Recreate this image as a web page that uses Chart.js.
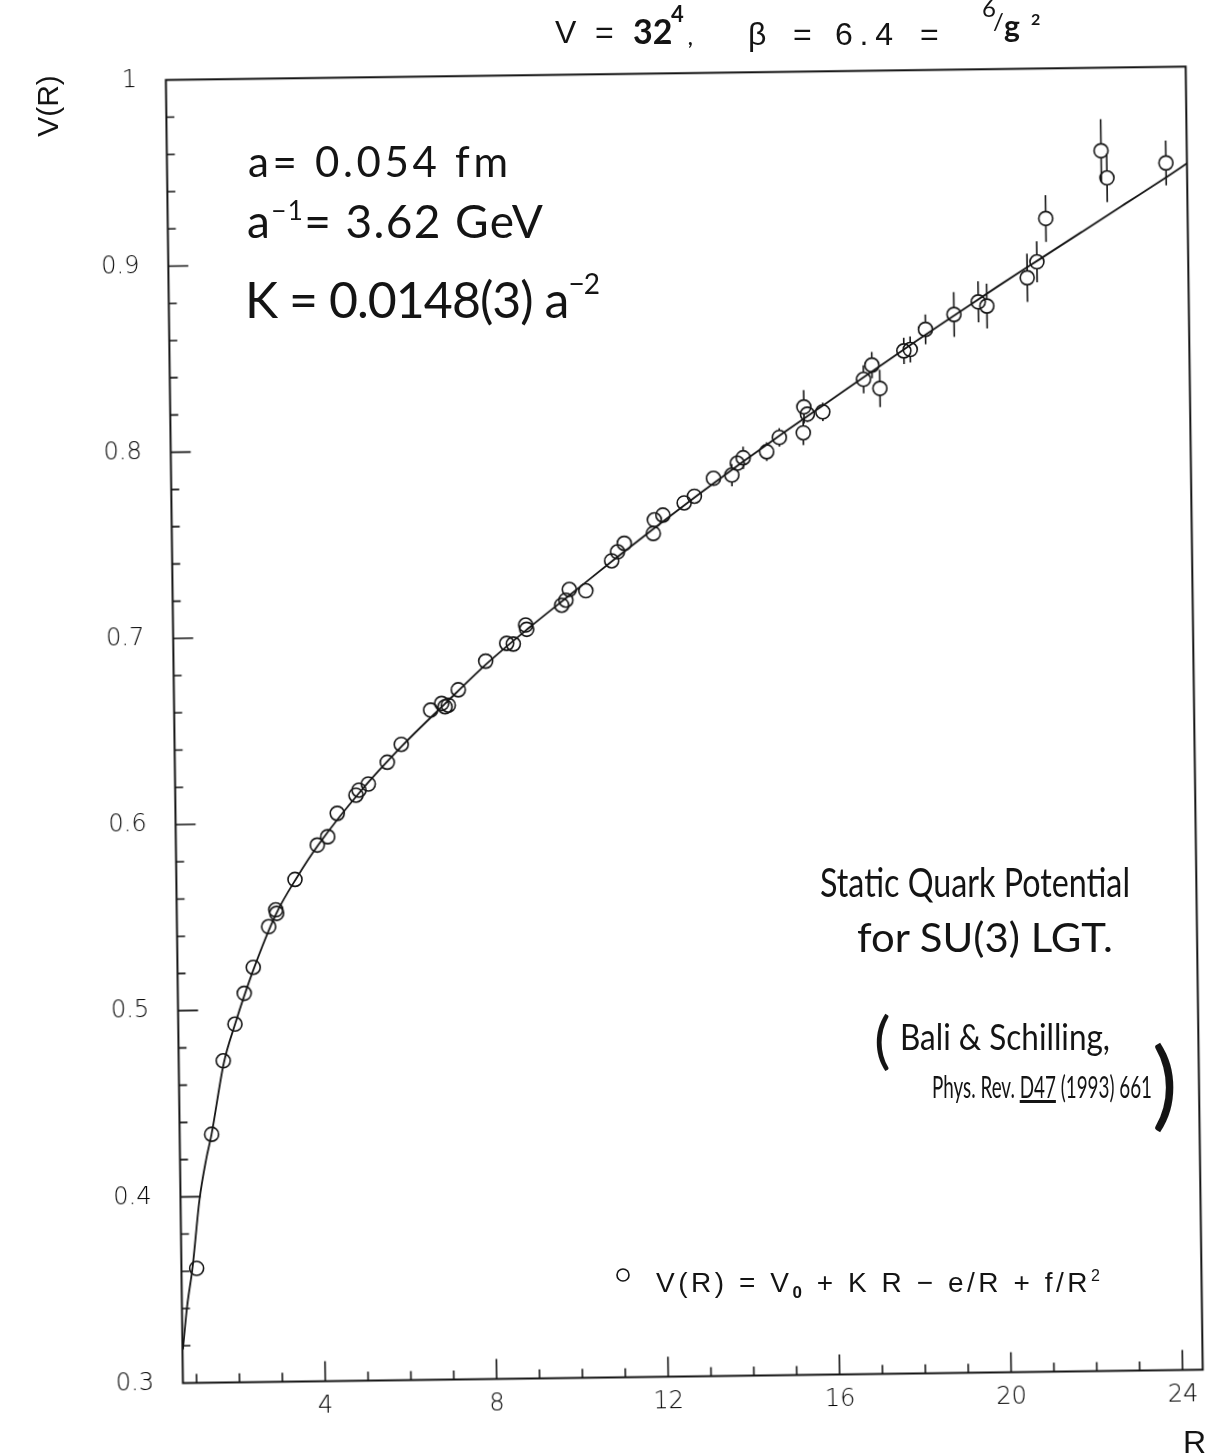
<!DOCTYPE html>
<html>
<head>
<meta charset="utf-8">
<script src="https://cdn.jsdelivr.net/npm/chart.js@4.4.0/dist/chart.umd.min.js"></script>
<style>
  html, body { margin: 0; padding: 0; background: #fff; overflow: hidden; }
  #rot { position: absolute; left: 0; top: 0; width: 1207px; height: 1456px;
         transform: rotate(-0.75deg); transform-origin: 603.5px 728px; }
  #notes { position: absolute; left: 0; top: 0; }
  #notes text { fill: #141414; }
  .typed { font-family: 'Liberation Sans', Arial, sans-serif; }
  .hand { font-family: Lato, 'Open Sans', sans-serif; }
</style>
</head>
<body>
<div id="rot"><canvas id="potChart" width="1207" height="1456"></canvas></div>

<svg id="notes" width="1207" height="1456" xmlns="http://www.w3.org/2000/svg">
  <!-- title -->
  <g class="typed" font-size="32">
    <text x="555" y="43">V</text>
    <text x="595" y="43">=</text>
    <text x="748" y="45">β</text>
    <text x="793" y="45">=</text>
    <text x="835" y="45" textLength="58">6.4</text>
    <text x="920" y="45">=</text>
  </g>
  <g class="hand" font-weight="bold">
    <text x="633" y="44" font-size="34">32</text>
    <text x="671" y="22" font-size="22">4</text>
    <text x="688" y="45" font-size="20">,</text>
    <text x="982" y="17" font-size="24" font-weight="normal">6</text>
    <text x="993" y="30" font-size="24" font-weight="normal">/</text>
    <text x="1004" y="37" font-size="30">g</text>
    <text x="1031" y="25" font-size="16">2</text>
  </g>

  <!-- axis titles -->
  <text class="typed" transform="translate(58,106) rotate(-90)" text-anchor="middle" font-size="30" font-weight="300">V(R)</text>
  <text class="typed" x="1183" y="1453" font-size="32" font-weight="300">R</text>

  <!-- hand written notes -->
  <g class="hand">
    <text x="248" y="177" font-size="42" textLength="260">a= 0.054 fm</text>
    <text x="247" y="238" font-size="46" textLength="296">a<tspan dy="-18" font-size="26">−1</tspan><tspan dy="18">=  3.62 GeV</tspan></text>
    <text x="245" y="318" font-size="50" textLength="355">K = 0.0148(3) a<tspan dy="-24" font-size="28">−2</tspan></text>

    <text x="820" y="897" font-size="40" textLength="310" lengthAdjust="spacingAndGlyphs">Static Quark Potential</text>
    <text x="857" y="952" font-size="40" textLength="256" lengthAdjust="spacingAndGlyphs">for SU(3) LGT.</text>
    <text x="874" y="1062" font-size="62">(</text>
    <text x="900" y="1050" font-size="36" textLength="210" lengthAdjust="spacingAndGlyphs">Bali &amp; Schilling,</text>
    <text x="932" y="1098" font-size="30" textLength="220" lengthAdjust="spacingAndGlyphs">Phys. Rev. <tspan text-decoration="underline">D47</tspan> (1993) 661</text>
    <text x="1152" y="1118" font-size="96">)</text>
  </g>

  <!-- legend -->
  <circle cx="623" cy="1275" r="6" fill="none" stroke="#141414" stroke-width="1.6"></circle>
  <text class="typed" x="656" y="1292" font-size="28" textLength="444">V(R) = V<tspan dy="6" font-size="17" font-weight="bold">0</tspan><tspan dy="-6"> + K R − e/R + f/R</tspan><tspan dy="-11" font-size="16">2</tspan></text>
</svg>

<script>
// measured potential: separation R (lattice units), V(R), error
const rVals = [1.035, 1.426, 1.719, 2.003, 2.229, 2.448, 2.819, 2.99, 3.01, 3.447,
  3.978, 4.224, 4.454, 4.895, 4.967, 5.186, 5.636, 5.968, 6.663, 6.922,
  6.999, 7.076, 7.314, 7.962, 8.457, 8.611, 8.905, 8.928, 9.752, 9.852,
  9.935, 10.32, 10.93, 11.07, 11.23, 11.91, 11.94, 12.14, 12.64, 12.88,
  13.33, 13.76, 13.89, 14.03, 14.58, 14.88, 15.44, 15.46, 15.54, 15.90,
  16.86, 17.06, 17.24, 17.81, 17.96, 18.32, 18.99, 19.56, 19.76, 20.71,
  20.94, 21.16, 22.47, 22.60, 23.98];
const vVals = [0.3615, 0.4334, 0.4728, 0.4924, 0.5089, 0.5228, 0.5445, 0.5535, 0.5516, 0.5697,
  0.5880, 0.5924, 0.6049, 0.6145, 0.6172, 0.6204, 0.6320, 0.6415, 0.6597, 0.6632,
  0.6614, 0.6622, 0.6704, 0.6856, 0.6950, 0.6946, 0.7047, 0.7024, 0.7151, 0.7178,
  0.7235, 0.7227, 0.7386, 0.7434, 0.7479, 0.7530, 0.7603, 0.7628, 0.7692, 0.7727,
  0.7822, 0.7838, 0.7901, 0.7930, 0.7961, 0.8037, 0.8060, 0.8199, 0.8160, 0.8171,
  0.8343, 0.8419, 0.8293, 0.8493, 0.8500, 0.8607, 0.8685, 0.8751, 0.8728, 0.8877,
  0.8962, 0.9194, 0.9554, 0.9408, 0.9484];
const vErrs = [0, 0, 0, 0, 0, 0, 0, 0, 0, 0,
  0, 0, 0, 0, 0, 0, 0, 0, 0, 0,
  0, 0, 0, 0, 0, 0, 0, 0, 0, 0,
  0, 0, 0, 0, 0, 0, 0, 0, 0, 0,
  0.003, 0.006, 0.004, 0.006, 0.005, 0.005, 0.0066, 0.009, 0.004, 0.005,
  0.0075, 0.007, 0.010, 0.007, 0.007, 0.008, 0.012, 0.011, 0.012, 0.013,
  0.011, 0.0125, 0.017, 0.013, 0.012];

// fit curve V0 + K R - e/R + f/R^2
const fitR = [0.69, 0.80, 0.94, 1.12, 1.29, 1.42, 1.73, 2.0, 2.45, 3.0,
  3.5, 4.0, 5.0, 6.0, 7.0, 8.0, 9.0, 10.0, 11.0, 12.0,
  13.0, 14.0, 15.0, 16.0, 17.0, 18.0, 19.0, 20.0, 21.0, 22.0,
  23.0, 24.0, 24.47];
const fitV = [0.318, 0.341, 0.362, 0.398, 0.420, 0.433, 0.4715, 0.492, 0.5215, 0.5515,
  0.5710, 0.588, 0.6165, 0.6410, 0.6630, 0.6845, 0.7035, 0.7215, 0.7395, 0.7570,
  0.7740, 0.7905, 0.8065, 0.8220, 0.8375, 0.8530, 0.8680, 0.8830, 0.8975, 0.9120,
  0.9265, 0.9410, 0.9480];

const xTickVals = [4, 8, 12, 16, 20, 24];
const yTickVals = [0.3, 0.4, 0.5, 0.6, 0.7, 0.8, 0.9, 1.0];

const INK = '#141414';
const MARK_R = 7;

// frame with inward ticks on left and bottom only
const frameTicks = {
  id: 'frameTicks',
  afterDraw(chart) {
    const { ctx, chartArea: a, scales: { x, y } } = chart;
    ctx.save();
    ctx.strokeStyle = INK;
    ctx.lineWidth = 2;
    ctx.strokeRect(a.left, a.top, a.right - a.left, a.bottom - a.top);
    ctx.lineWidth = 1.6;
    ctx.beginPath();
    for (let r = 1; r <= 24; r++) {
      const px = x.getPixelForValue(r);
      const len = r % 4 === 0 ? 20 : 9;
      ctx.moveTo(px, a.bottom);
      ctx.lineTo(px, a.bottom - len);
    }
    for (let k = 16; k < 50; k++) {
      const py = y.getPixelForValue(k / 50);
      const len = k % 5 === 0 ? 20 : 8;
      ctx.moveTo(a.left, py);
      ctx.lineTo(a.left + len, py);
    }
    ctx.stroke();
    ctx.restore();
  }
};

// vertical error bars, drawn outside the open circle
const errorBars = {
  id: 'errorBars',
  afterDatasetsDraw(chart) {
    const { ctx, scales: { y } } = chart;
    const meta = chart.getDatasetMeta(1);
    ctx.save();
    ctx.strokeStyle = INK;
    ctx.lineWidth = 1.6;
    ctx.beginPath();
    meta.data.forEach((pt, i) => {
      const e = vErrs[i];
      if (!e) return;
      const top = y.getPixelForValue(vVals[i] + e);
      const bot = y.getPixelForValue(vVals[i] - e);
      if (pt.y - top > MARK_R) {
        ctx.moveTo(pt.x, pt.y - MARK_R);
        ctx.lineTo(pt.x, top);
        ctx.moveTo(pt.x, pt.y + MARK_R);
        ctx.lineTo(pt.x, bot);
      }
    });
    ctx.stroke();
    ctx.restore();
  }
};

const tickFont = { family: "'DejaVu Sans', sans-serif", size: 24, weight: '200' };

new Chart(document.getElementById('potChart'), {
  type: 'scatter',
  data: {
    datasets: [{
      label: 'fit',
      data: fitR.map((r, i) => ({ x: r, y: fitV[i] })),
      showLine: true,
      borderColor: INK,
      borderWidth: 1.8,
      pointRadius: 0,
      cubicInterpolationMode: 'monotone',
      fill: false
    }, {
      label: 'V(R)',
      data: rVals.map((r, i) => ({ x: r, y: vVals[i] })),
      pointStyle: 'circle',
      pointRadius: MARK_R,
      pointBorderWidth: 1.6,
      borderColor: INK,
      backgroundColor: 'rgba(0,0,0,0)',
      showLine: false
    }]
  },
  options: {
    responsive: false,
    animation: false,
    devicePixelRatio: 1,
    layout: { padding: { top: 74.3, right: 12.7, left: 0, bottom: 0 } },
    plugins: { legend: { display: false }, tooltip: { enabled: false } },
    scales: {
      x: {
        type: 'linear', min: 0.68, max: 24.47,
        grid: { display: false, drawTicks: false },
        border: { display: false },
        afterBuildTicks: s => { s.ticks = xTickVals.map(v => ({ value: v })); },
        afterFit: s => { s.height = 78.5; },
        ticks: { padding: 11, color: '#000', font: tickFont, maxRotation: 0, autoSkip: false }
      },
      y: {
        type: 'linear', min: 0.3, max: 1.0,
        grid: { display: false, drawTicks: false },
        border: { display: false },
        afterBuildTicks: s => { s.ticks = yTickVals.map(v => ({ value: v })); },
        afterFit: s => { s.width = 174.4; },
        ticks: {
          padding: 29, color: '#000', font: tickFont, autoSkip: false,
          callback: v => (v === 1 ? '1' : v.toFixed(1))
        }
      }
    }
  },
  plugins: [frameTicks, errorBars]
});
</script>
</body>
</html>
